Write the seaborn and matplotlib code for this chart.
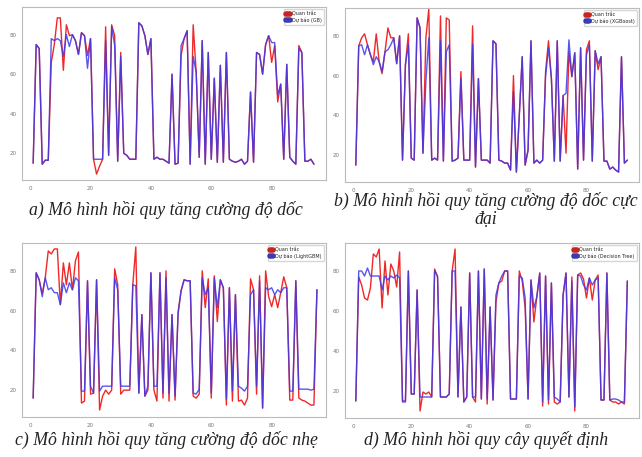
import numpy as np
import pandas as pd
import matplotlib
matplotlib.use("Agg")
import matplotlib.pyplot as plt
import seaborn as sns

obs_a = [15, 75, 73, 14.5, 16.5, 16.5, 66, 75, 88.5, 88.5, 62, 85, 79.5, 80, 77, 70, 81, 79.5, 69.5, 78,
         17, 9.5, 13.5, 17, 84, 19, 85, 79.5, 16, 71, 20, 19, 17, 17, 17, 86, 84.5, 79.5, 70, 78,
         17, 18, 17, 17, 16, 15, 60, 14.5, 15, 69.5, 78, 82, 14.5, 85, 61, 18, 77, 14.5, 71, 17,
         58, 15.5, 64.5, 15.5, 71, 17, 16, 15.5, 16, 17, 14.5, 16, 51, 15.5, 71, 70, 60, 75, 79.5, 66,
         74.5, 46, 55, 17, 65, 18, 16, 14.5, 74.5, 71, 16, 16, 17, 14.5]
pred_a = [15, 75, 73, 14.5, 16.5, 16.5, 78, 77, 78, 77, 69, 80, 74, 80, 77, 70, 81, 79.5, 63, 78,
          17, 17, 17, 17, 77, 19, 84, 74.5, 16, 69, 20, 19, 17, 17, 17, 86, 84.5, 79.5, 70, 78,
          17, 18, 17, 17, 16, 15, 60, 14.5, 15, 74.5, 78, 82, 14.5, 69, 61, 18, 77, 14.5, 71, 17,
          58, 15.5, 64.5, 15.5, 71, 17, 16, 15.5, 16, 17, 14.5, 16, 51, 15.5, 71, 70, 60, 75, 79.5, 76,
          76, 49.5, 55, 17, 65, 18, 16, 14.5, 73, 71, 16, 16, 17, 14.5]

obs_b = [15, 75, 79, 81, 75.5, 70.5, 67, 81, 67, 61, 72, 84, 79, 79, 66, 80, 17.5, 65.5, 81, 18.5,
         17.5, 89, 84, 21, 79, 93.5, 17.5, 18.5, 17.5, 90, 17, 89, 88, 17, 17.5, 18.5, 62, 17.5, 17.5, 17.5,
         85, 14, 58.5, 17.5, 17.5, 17.5, 16, 77.5, 76, 17.5, 17, 16, 16, 12.5, 60, 11.5, 40, 69.5, 15, 22.5,
         77.5, 16, 17.5, 16, 17.5, 62, 77.5, 58.5, 17, 77.5, 17, 50, 21, 72, 59.5, 71.5, 13, 74, 17.5, 73,
         77.5, 17, 72.5, 63, 69.5, 17, 17, 13, 14, 12.5, 11.5, 69.5, 16, 17.5]
pred_b = [15, 75, 75.5, 70.5, 75.5, 70.5, 65.5, 69.5, 67, 62, 72, 73, 75.5, 79, 66, 80, 17.5, 65.5, 75.5, 18.5,
          17.5, 89, 84, 21, 57, 79, 17.5, 18.5, 17.5, 77.5, 17, 72, 75.5, 17, 17.5, 18.5, 58.5, 17.5, 17.5, 17.5,
          75.5, 14, 58.5, 17.5, 17.5, 17.5, 16, 77.5, 76, 17.5, 17, 16, 16, 12.5, 52, 11.5, 40, 69.5, 15, 22.5,
          77.5, 16, 17.5, 16, 17.5, 59.5, 74, 58.5, 17, 77.5, 17, 50, 51, 78, 59.5, 71.5, 13, 74, 17.5, 70.5,
          75.5, 17, 72.5, 66, 69.5, 17, 17, 13, 14, 12.5, 11.5, 69.5, 16, 17.5]

obs_c = [16, 79, 75.5, 68.5, 76.5, 90, 88.5, 91, 91, 63, 84, 73, 84, 70.5, 85, 89.5, 13.5, 14.5, 75, 18,
         18.5, 75.5, 10, 17, 20, 18, 20, 81, 73, 18, 20, 20, 20, 73, 92, 18.5, 58, 17, 20, 79,
         20, 14.5, 79, 16, 80, 14.5, 58, 15, 59.5, 70, 75.5, 75, 75, 17, 16, 18, 80, 61.5, 76, 16,
         77.5, 54.5, 75.5, 71.5, 12.5, 71.5, 14.5, 68, 14.5, 15, 12.5, 16, 76, 70.5, 18, 77.5, 11, 80, 67, 62,
         68, 61.5, 69, 77, 71.5, 15, 15, 75, 16, 15, 14.5, 13.5, 12.5, 12.5, 70.5]
pred_c = [16, 79, 75.5, 67, 76.5, 70.5, 71.5, 69, 69, 63, 74, 69, 74, 70.5, 76.5, 75, 19.5, 19.5, 75, 22,
          18.5, 75.5, 19.5, 22, 22, 22, 22, 76.5, 70.5, 22, 22, 22, 22, 73, 72.5, 18.5, 58, 17, 22, 79,
          22, 22, 79, 18.5, 76.5, 18.5, 58, 17, 58, 70, 75.5, 75, 75, 18.5, 18, 20.5, 76.5, 68, 71.5, 18.5,
          76.5, 61.5, 75.5, 71.5, 15.5, 71.5, 19.5, 68, 22, 21, 19.5, 22, 68, 70.5, 22, 75, 11, 71.5, 70.5, 71.5,
          68, 70.5, 69, 71.5, 71.5, 19.5, 19.5, 75, 20.5, 20.5, 20.5, 20.5, 20, 20.5, 70.5]

obs_d = [15, 77, 73, 66.5, 65.5, 71.5, 88.5, 87, 91, 61.5, 85, 68, 83.5, 80, 72, 89.5, 15, 15, 80, 18.5,
         18.5, 70.5, 10, 19.5, 18.5, 19.5, 17, 81, 77, 17, 17, 17, 18.5, 80, 91, 17, 62, 14.5, 17, 79,
         17, 14.5, 80, 16, 81, 13.5, 62, 15.5, 64.5, 74, 75, 80, 80, 16, 16, 16, 80, 75, 61.5, 16,
         75.5, 54.5, 67, 79, 12.5, 77.5, 13.5, 74, 14.5, 13.5, 14.5, 68, 79, 17, 77, 10, 78, 79, 76, 66.5,
         76.5, 65.5, 75.5, 78, 15.5, 15.5, 79, 15.5, 14.5, 14.5, 13.5, 14.5, 13.5, 75]
pred_d = [15, 80, 80, 77.5, 81.5, 77.5, 77.5, 77.5, 77.5, 70.5, 77.5, 75.5, 77.5, 76.5, 78, 76.5, 14.5, 14.5, 80, 18.5,
          18.5, 70.5, 17, 17, 17, 17, 17, 80, 77.5, 17, 17, 17, 18.5, 80, 80, 17, 62, 14.5, 17, 79,
          17, 17, 80, 16, 81, 16, 62, 15.5, 68, 74, 77.5, 80, 80, 16, 16, 16, 77.5, 76.5, 66.5, 16,
          75.5, 61.5, 67, 79, 14.5, 77.5, 15.5, 74, 17, 16, 14.5, 68, 79, 17, 75, 12, 78, 77.5, 73, 70.5,
          76.5, 73, 75.5, 76.5, 15.5, 15.5, 79, 15.5, 16, 16, 15.5, 14.5, 14.5, 75]

model_names = ["GB", "XGBoost", "LightGBM", "Decision Tree"]
captions = ["a) Mô hình hồi quy tăng cường độ dốc",
            "b) Mô hình hồi quy tăng cường độ dốc cực\nđại",
            "c) Mô hình hồi quy tăng cường độ dốc nhẹ",
            "d) Mô hình hồi quy cây quyết định"]
x_ticks = [0, 20, 40, 60, 80]
y_ticks = [20, 40, 60, 80]

sns.set_theme(style="white")
W, H = 642, 457
fig = plt.figure(figsize=(W / 100, H / 100), dpi=100)

# axes boxes in pixels: left, top, right, bottom
boxes = [(22, 7, 326, 180), (345, 8, 639, 182), (22, 243, 326, 417), (345, 243, 639, 418)]
caption_pos = [(166, 210), (486, 210), (166, 440), (486, 440)]
series = [(obs_a, pred_a), (obs_b, pred_b), (obs_c, pred_c), (obs_d, pred_d)]

for i, (obs, pred) in enumerate(series):
    l, t, r, b = boxes[i]
    ax = fig.add_axes([l / W, 1 - b / H, (r - l) / W, (b - t) / H])
    x = np.arange(1, len(obs) + 1)
    sns.lineplot(x=x, y=obs, color="#f02828", lw=1.0, ax=ax, label="Quan trắc")
    sns.lineplot(x=x, y=pred, color="#3a3aee", lw=1.0, alpha=0.85, ax=ax,
                 label=f"Dự báo ({model_names[i]})")
    ax.set_xlim(-2.7, 98)
    ax.set_ylim(6.5, 94)
    ax.set_xticks(x_ticks)
    ax.set_yticks(y_ticks)
    ax.tick_params(labelsize=4, colors="#777777", length=2, pad=2)
    for s in ax.spines.values():
        s.set_color("#bbbbbb")
        s.set_linewidth(0.8)
    leg = ax.legend(loc="upper right", fontsize=3.5, handlelength=0.7, handleheight=0.7,
                    frameon=True, borderpad=0.4, labelspacing=0.2, handletextpad=0.4)
    for h, c in zip(leg.legend_handles, ["#cc2222", "#1a1aa0"]):
        h.set_linewidth(4)
        h.set_color(c)
    cx, cy = caption_pos[i]
    fig.text(cx / W, 1 - cy / H, captions[i], ha="center", va="center", fontsize=12.8,
             style="italic", family=["Liberation Serif", "DejaVu Serif"], linespacing=1.1,
             color="#222222")

fig.savefig("out.png", dpi=100)
